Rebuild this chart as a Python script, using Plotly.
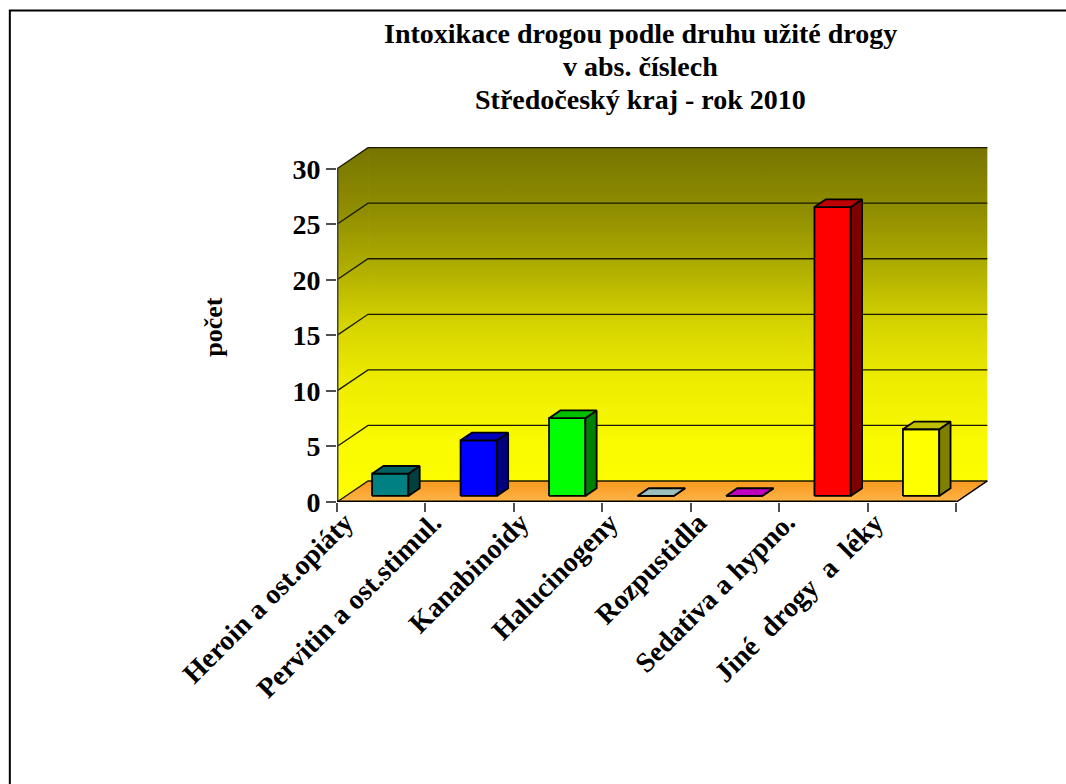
import plotly.graph_objects as go

# ---------------- data ----------------
categories = ["Heroin a ost.opiáty", "Pervitin a ost.stimul.", "Kanabinoidy",
              "Halucinogeny", "Rozpustidla", "Sedativa a hypno.",
              "Jiné\u00a0 drogy\u00a0 a\u00a0 léky"]
values = [2, 5, 7, 0, 0, 26, 6]
y_ticks = [0, 5, 10, 15, 20, 25, 30]
title_lines = ["Intoxikace drogou podle druhu užité drogy", "v abs. číslech",
               "Středočeský kraj - rok 2010"]
y_title = "počet"

# ---------------- style / geometry ----------------
front_colors = ['#008080', '#0000FF', '#00FF00', '#CCFFFF', '#FF00FF', '#FF0000', '#FFFF00']
FONT = "Liberation Serif"
W, H = 1066, 784
N = len(categories)
YMAX = 30
PX_X = 88.43           # pixels per category
PX_Y = 11.1            # pixels per unit
ORIG_X, ORIG_Y = 337, 502
DX = 31 / PX_X         # depth offset in category units
DY = 21 / PX_Y         # depth offset in value units
BAR_L, BAR_R = 0.295, 0.705
BAR_F, BAR_D = 0.29, 0.365
PAD_X, PAD_Y = 0.03, 0.15

xr = [0, N + DX + PAD_X]
yr = [0, YMAX + DY + PAD_Y]
plot_w = xr[1] * PX_X
plot_h = yr[1] * PX_Y
m_l = ORIG_X
m_b = H - ORIG_Y
m_r = W - m_l - plot_w
m_t = H - m_b - plot_h


def shade(hexcol, k):
    h = hexcol.lstrip('#')
    r, g, b = (int(h[i:i + 2], 16) for i in (0, 2, 4))
    return '#%02X%02X%02X' % (int(r * k), int(g * k), int(b * k))


def px2paper_x(p):
    return (p - m_l) / plot_w


def px2paper_y(p):
    return (H - m_b - p) / plot_h


fig = go.Figure()

wall_scale = [[0.0, '#FFFF00'], [0.18, '#F9F900'], [0.34, '#EEEC00'],
              [0.5, '#D6D400'], [0.66, '#B0AE00'], [0.82, '#908E00'], [1.0, '#777500']]

# back wall
fig.add_trace(go.Scatter(
    x=[DX, N + DX, N + DX, DX, DX], y=[DY, DY, YMAX + DY, YMAX + DY, DY],
    mode='lines', fill='toself', line=dict(width=0),
    fillgradient=dict(type='vertical', colorscale=wall_scale, start=0, stop=YMAX + DY),
    hoverinfo='skip', showlegend=False))
# left wall
fig.add_trace(go.Scatter(
    x=[0, DX, DX, 0, 0], y=[0, DY, YMAX + DY, YMAX, 0],
    mode='lines', fill='toself', line=dict(width=0),
    fillgradient=dict(type='vertical', colorscale=wall_scale, start=0, stop=YMAX + DY),
    hoverinfo='skip', showlegend=False))
# floor
fig.add_trace(go.Scatter(
    x=[0, N, N + DX, DX, 0], y=[0, 0, DY, DY, 0],
    mode='lines', fill='toself', line=dict(width=0),
    fillgradient=dict(type='vertical', colorscale=[[0, '#FFB548'], [1, '#F7981E']],
                      start=0, stop=DY),
    hoverinfo='skip', showlegend=False))

# gridlines
gx, gy = [], []
for v in y_ticks:
    gx += [0, DX, N + DX, None]
    gy += [v, v + DY, v + DY, None]
fig.add_trace(go.Scatter(x=gx, y=gy, mode='lines', line=dict(color='#1A1A00', width=1.3),
                         hoverinfo='skip', showlegend=False))

# edges: left wall front edge, floor front and right edges
fig.add_trace(go.Scatter(x=[0, 0], y=[0, YMAX], mode='lines',
                         line=dict(color='#404040', width=3),
                         hoverinfo='skip', showlegend=False))
fig.add_trace(go.Scatter(x=[0, N], y=[0, 0], mode='lines',
                         line=dict(color='#000000', width=3),
                         hoverinfo='skip', showlegend=False))
fig.add_trace(go.Scatter(x=[N, N + DX], y=[0, DY], mode='lines',
                         line=dict(color='#000000', width=1.5),
                         hoverinfo='skip', showlegend=False))

# 3D bars
for i, (cat, v) in enumerate(zip(categories, values)):
    c = front_colors[i]
    x0 = i + BAR_L + BAR_F * DX
    x1 = i + BAR_R + BAR_F * DX
    y0 = BAR_F * DY
    y1 = v + BAR_F * DY
    ddx, ddy = BAR_D * DX, BAR_D * DY
    faces = [
        ([x0, x1, x1, x0, x0], [y0, y0, y1, y1, y0], c),
        ([x1, x1 + ddx, x1 + ddx, x1, x1], [y0, y0 + ddy, y1 + ddy, y1, y0], shade(c, 0.5)),
        ([x0, x1, x1 + ddx, x0 + ddx, x0], [y1, y1, y1 + ddy, y1 + ddy, y1], shade(c, 0.75)),
    ]
    for fx, fy, fc in faces:
        fig.add_trace(go.Scatter(x=fx, y=fy, mode='lines', fill='toself', fillcolor=fc,
                                 line=dict(color='#000000', width=1.8),
                                 name=cat, hoverinfo='skip', showlegend=False))

# category labels (rotated 45 deg, ending near each category centre)
annotations = []
LABEL_DX, LABEL_TOP = -20 / PX_X, 504
for i, cat in enumerate(categories):
    annotations.append(dict(
        x=i + 0.5 + LABEL_DX, y=px2paper_y(LABEL_TOP),
        xref='x', yref='paper', text='<b>%s</b>' % cat, showarrow=False,
        textangle=-45, xanchor='right', yanchor='top',
        font=dict(family=FONT, size=28, color='black')))
# y title
annotations.append(dict(
    x=px2paper_x(214), y=(ORIG_Y - 327) / PX_Y, xref='paper', yref='y',
    text='<b>%s</b>' % y_title,
    showarrow=False, textangle=-90, xanchor='center', yanchor='middle',
    font=dict(family=FONT, size=26, color='black')))
# chart title, one annotation per line
TITLE_CX, TITLE_BASE, TITLE_STEP = 640, 43.5, 32.8
for k, t in enumerate(title_lines):
    annotations.append(dict(
        x=px2paper_x(TITLE_CX), y=px2paper_y(TITLE_BASE + k * TITLE_STEP + 7),
        xref='paper', yref='paper', text='<b>%s</b>' % t, showarrow=False,
        xanchor='center', yanchor='bottom', align='center', borderpad=0,
        font=dict(family=FONT, size=28, color='black')))

fig.update_layout(
    width=W, height=H,
    margin=dict(l=m_l, r=m_r, t=m_t, b=m_b, pad=0),
    paper_bgcolor='white', plot_bgcolor='rgba(0,0,0,0)',
    xaxis=dict(range=xr, tickvals=list(range(N + 1)), showticklabels=False,
               ticks='outside', ticklen=9, tickcolor='#505050', tickwidth=1.5,
               showgrid=False, zeroline=False, showline=False, fixedrange=True),
    yaxis=dict(range=yr, tickvals=y_ticks, ticks='outside', ticklen=10,
               tickcolor='#505050', tickwidth=1.5,
               tickfont=dict(family=FONT, size=28, color='black', weight='bold'),
               showgrid=False, zeroline=False, showline=False, fixedrange=True),
    annotations=annotations,
    shapes=[dict(type='rect', xref='paper', yref='paper',
                 x0=px2paper_x(10), x1=px2paper_x(W + 20),
                 y0=px2paper_y(H + 20), y1=px2paper_y(11),
                 line=dict(color='black', width=2), fillcolor='rgba(0,0,0,0)')],
    showlegend=False,
)

fig.write_html("out.html", config={'displayModeBar': False},
               post_script="document.body.style.margin='0';")
